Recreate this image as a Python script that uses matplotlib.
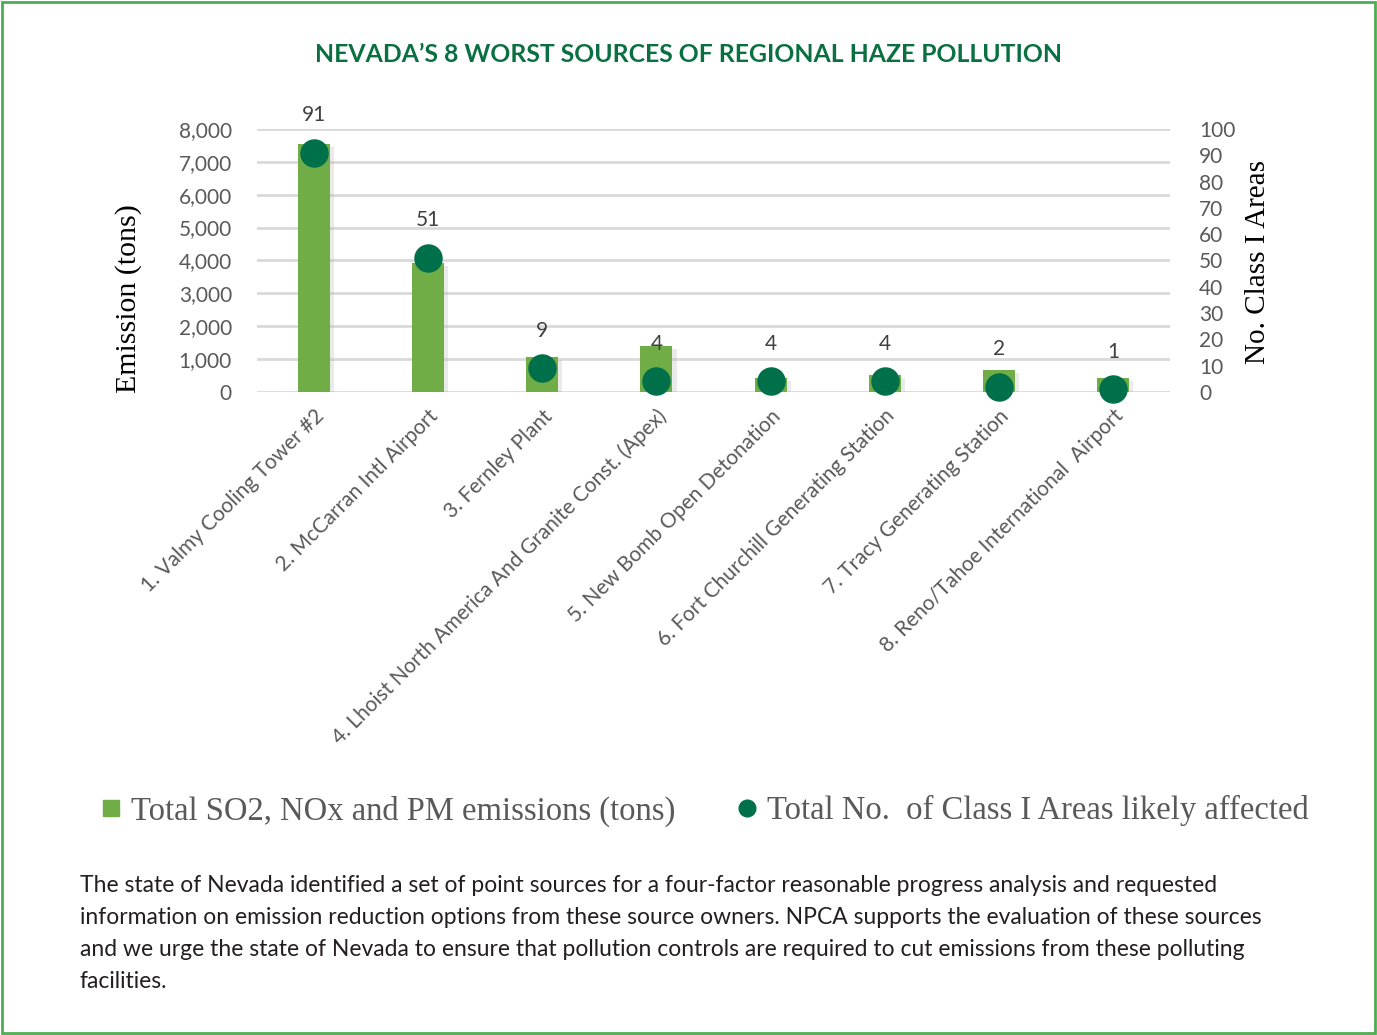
import matplotlib
matplotlib.use('Agg')
import matplotlib.pyplot as plt
import matplotlib.patheffects as pe
from matplotlib.lines import Line2D
from matplotlib.patches import Rectangle
from matplotlib.ticker import FuncFormatter

sources = [
    '1. Valmy Cooling Tower #2',
    '2. McCarran Intl Airport',
    '3. Fernley Plant',
    '4. Lhoist North America And Granite Const. (Apex)',
    '5. New Bomb Open Detonation',
    '6. Fort Churchill Generating Station',
    '7. Tracy Generating Station',
    '8. Reno/Tahoe International  Airport',
]
emissions = [7550, 3920, 1070, 1400, 420, 510, 660, 420]
class_areas = [91, 51, 9, 4, 4, 4, 2, 1]

bar_color = '#70ad47'
dot_color = '#00704a'
text_gray = '#595959'

fig = plt.figure(figsize=(13.77, 10.35), dpi=100)

# рамка вокруг всей картинки
fig.patches.append(Rectangle((0.0015, 0.002), 0.997, 0.996, transform=fig.transFigure,
                             fill=False, edgecolor='#4cae52', linewidth=2))

ax = fig.add_axes([0.1866, 0.6213, 0.6631, 0.2541])
x = range(len(sources))

shadow = [pe.SimplePatchShadow(offset=(3, -2), shadow_rgbFace='#bbbbbb', alpha=0.3), pe.Normal()]
ax.bar(x, emissions, width=0.28, color=bar_color, zorder=2, path_effects=shadow)

ax.set_ylim(0, 8000)
ax.set_xlim(-0.5, len(sources) - 0.5)
ax.set_yticks(range(0, 8001, 1000))
ax.yaxis.set_major_formatter(FuncFormatter(lambda v, p: f'{int(v):,}'))
ax.grid(axis='y', color='#d9d9d9', linewidth=2, zorder=0)
ax.set_axisbelow(True)
for s in ax.spines.values():
    s.set_visible(False)
ax.tick_params(axis='y', length=0, pad=18, labelsize=15, labelcolor=text_gray)
ax.tick_params(axis='x', length=0, pad=10)
for lab in ax.get_yticklabels():
    lab.set_family('Lato')
ax.set_xticks(list(x))
ax.set_xticklabels(sources, rotation=45, ha='right', rotation_mode='anchor',
                   fontsize=15, color=text_gray, family='Lato')

ax2 = ax.twinx()
ax2.set_ylim(0, 100)
ax2.set_yticks(range(0, 101, 10))
for s in ax2.spines.values():
    s.set_visible(False)
ax2.tick_params(axis='y', length=0, pad=21, labelsize=15, labelcolor=text_gray)
for lab in ax2.get_yticklabels():
    lab.set_family('Lato')
ax2.scatter(x, class_areas, s=380, color=dot_color, zorder=3, clip_on=False)
for xi, v in zip(x, class_areas):
    ax2.annotate(str(v), (xi, v), xytext=(0, 27), textcoords='offset points',
                 ha='center', va='center', fontsize=15, color='#404040', family='Lato')

fig.text(0.0930, 1 - 299 / 1035, 'Emission (tons)', rotation=90, ha='center', va='center',
         fontsize=21.5, family='Liberation Serif', color='black')
fig.text(0.9135, 1 - 262 / 1035, 'No. Class I Areas', rotation=90, ha='center', va='center',
         fontsize=21, family='Liberation Serif', color='black')

fig.text(0.5, 1 - 54 / 1035, 'NEVADA\u2019S 8 WORST SOURCES OF REGIONAL HAZE POLLUTION',
         ha='center', va='center', fontsize=17.8, fontweight='bold', family='Lato', color='#0a7042')

handles = [
    Line2D([], [], linestyle='none', marker='s', markersize=11, color=bar_color),
    Line2D([], [], linestyle='none', marker='o', markersize=12, color=dot_color),
]
fig.legend(handles, ['Total SO2, NOx and PM emissions (tons)', 'Total No.  of Class I Areas likely affected'],
           loc='center', bbox_to_anchor=(0.512, 1 - 811 / 1035), ncol=2, frameon=False,
           handlelength=0.6, handletextpad=0.3, columnspacing=1.9,
           prop={'family': 'Liberation Serif', 'size': 23.5}, labelcolor=text_gray)

footer = [
    'The state of Nevada identified a set of point sources for a four-factor reasonable progress analysis and requested',
    'information on emission reduction options from these source owners. NPCA supports the evaluation of these sources',
    'and we urge the state of Nevada to ensure that pollution controls are required to cut emissions from these polluting',
    'facilities.',
]
for i, line in enumerate(footer):
    fig.text(80 / 1377, 1 - (885 + 32 * i) / 1035, line, ha='left', va='center',
             fontsize=16.5, family='Lato', color='#231f20')

plt.savefig('out.png', dpi=100)
